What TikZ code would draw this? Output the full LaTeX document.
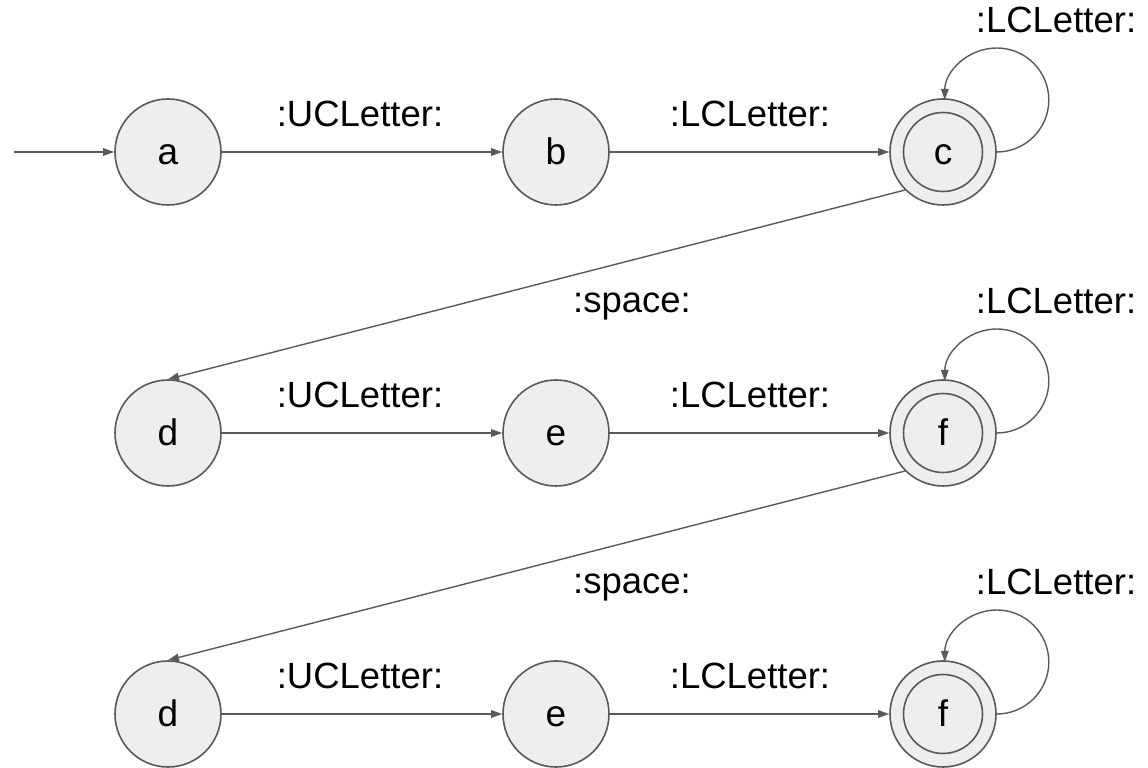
\documentclass[tikz,border=0pt]{standalone}
\usepackage{fontspec}
\setmainfont{Liberation Sans}
\usetikzlibrary{arrows.meta}
\definecolor{stroke}{HTML}{595959}
\definecolor{nodefill}{HTML}{EEEEEE}
\tikzset{
  x=1pt, y=1pt,
  state/.style={circle, draw=stroke, fill=nodefill, line width=1.6pt, minimum size=106pt, inner sep=0pt, text height=26pt, text depth=0pt, font=\fontsize{37}{40}\selectfont},
  accepting/.style={state, path picture={\draw[stroke, line width=1.6pt] (path picture bounding box.center) circle[radius=39.5pt];}},
  lbl/.style={anchor=base, inner sep=0pt, font=\fontsize{36.5}{40}\selectfont},
  edge/.style={draw=stroke, line width=1.4pt, -{Triangle[length=11pt,width=7.5pt]}}
}
\begin{document}
\begin{tikzpicture}
\useasboundingbox (0,0) rectangle (1148,768);
% row 1
\node[state] (a) at (168,616) {a};
\node[state] (b) at (556,616) {b};
\node[accepting] (c) at (943,616) {c};
% row 2
\node[state] (d) at (168,335) {d};
\node[state] (e) at (556,335) {e};
\node[accepting] (f) at (943,335) {f};
% row 3
\node[state] (d2) at (168,54) {d};
\node[state] (e2) at (556,54) {e};
\node[accepting] (f2) at (943,54) {f};
\coordinate (start) at (14,616);
% edges
\draw[edge] (start) -- (a);
\draw[edge] (a) -- (b);
\draw[edge] (b) -- (c);
\draw[edge] (c.east) arc[start angle=-90, end angle=180, radius=52pt];
\draw[edge] (c.south west) -- (d.north);
\draw[edge] (d) -- (e);
\draw[edge] (e) -- (f);
\draw[edge] (f.east) arc[start angle=-90, end angle=180, radius=52pt];
\draw[edge] (f.south west) -- (d2.north);
\draw[edge] (d2) -- (e2);
\draw[edge] (e2) -- (f2);
\draw[edge] (f2.east) arc[start angle=-90, end angle=180, radius=52pt];
% labels
\node[lbl] (l1) at (360,641) {:UCLetter:};
\node[lbl] (l2) at (750,641) {:LCLetter:};
\node[lbl] (l3) at (1056,735) {:LCLetter:};
\node[lbl] (l4) at (632,455) {:space:};
\node[lbl] (l5) at (360,360) {:UCLetter:};
\node[lbl] (l6) at (750,360) {:LCLetter:};
\node[lbl] (l7) at (1056,454) {:LCLetter:};
\node[lbl] (l8) at (632,174) {:space:};
\node[lbl] (l9) at (360,79) {:UCLetter:};
\node[lbl] (l10) at (750,79) {:LCLetter:};
\node[lbl] (l11) at (1056,173) {:LCLetter:};
\end{tikzpicture}
\end{document}
